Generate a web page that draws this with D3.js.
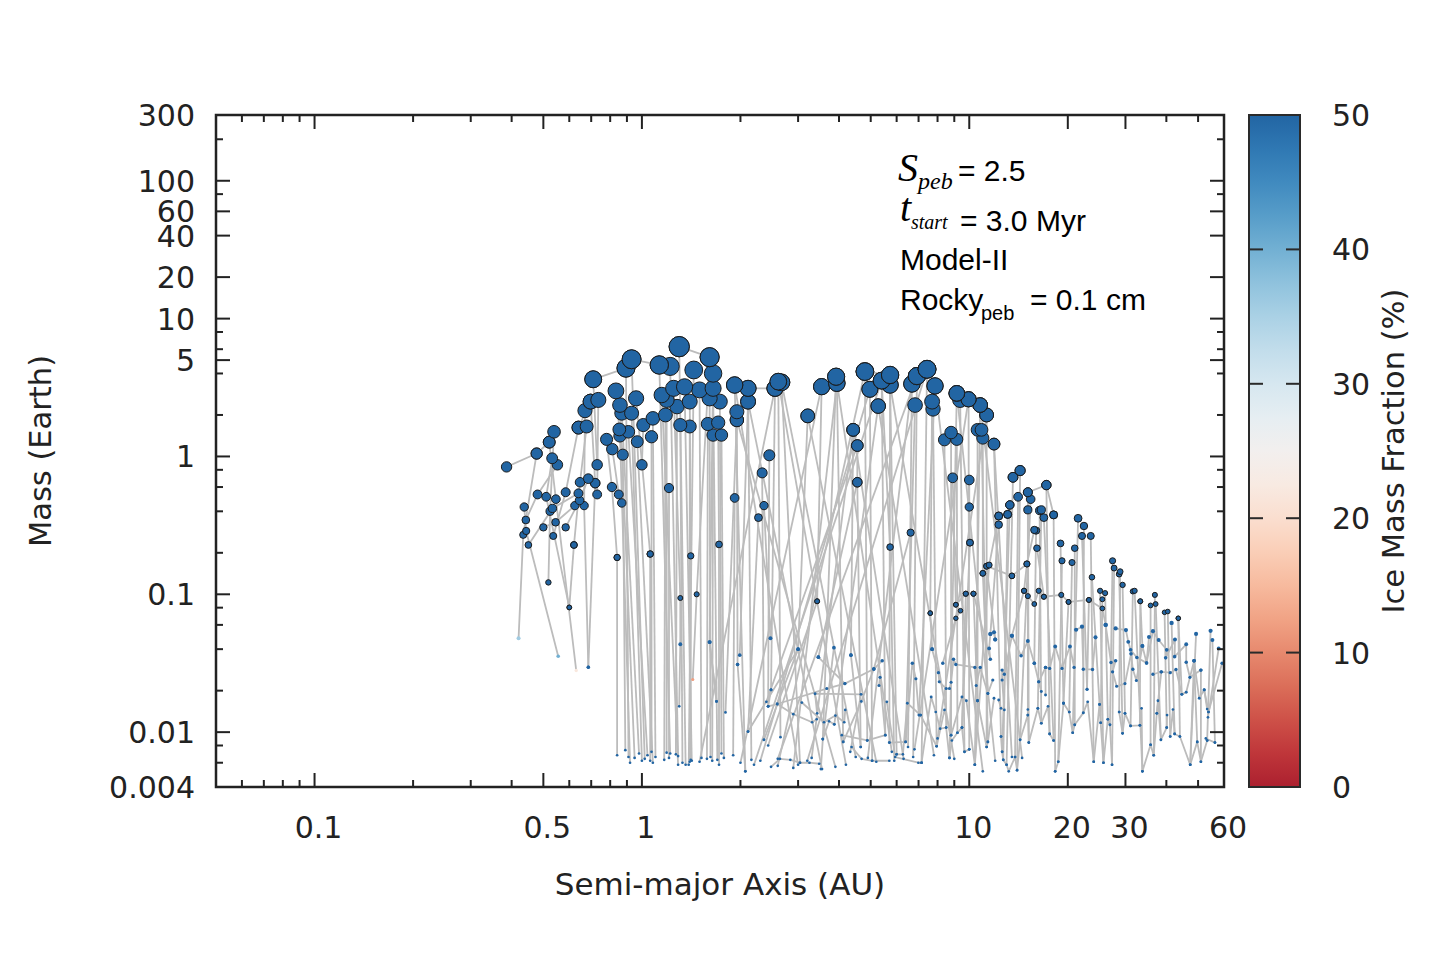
<!DOCTYPE html>
<html><head><meta charset="utf-8">
<script src="https://cdn.jsdelivr.net/npm/d3@7"></script>
<style>body{margin:0;background:#fff} svg{display:block}</style>
</head><body>
<svg id="chart" width="1440" height="960"></svg>
<script>
// ---------- axis data ----------
const xTickLabels = [0.1, 0.5, 1, 10, 20, 30, 60];
const xMajorTicks = [0.1, 0.5, 1, 10, 20, 30];
const xMinorTicks = [0.06,0.07,0.08,0.09,0.2,0.3,0.4,0.6,0.7,0.8,0.9,2,3,4,5,6,7,8,9,40,50];
const yTickLabels = [300, 100, 60, 40, 20, 10, 5, 1, 0.1, 0.01, 0.004];
const yMajorTicks = [100, 60, 40, 20, 10, 5, 1, 0.1, 0.01];
const yMinorTicks = [200,80,8,6,4,2,0.8,0.6,0.4,0.2,0.08,0.06,0.04,0.02,0.008,0.006];
const iceTicks = [0, 10, 20, 30, 40, 50];
const defaultIce = 50;

// ---------- planet tracks: [semi-major axis AU, mass Earth, (ice %)] ----------
const innerTracks = [
 [[0.42,0.048,36],[0.434,0.27],[0.477,1.05]],
 [[0.386,0.84],[0.477,1.05],[0.521,1.27]],
 [[0.555,0.0355,40],[0.443,0.288],[0.437,0.43]],
 [[0.63,0.028,22],[0.546,0.49],[0.521,1.27]],
 [[0.686,0.0296],[0.666,0.44],[0.67,2.15]],
 [[0.60,0.0803],[0.51,0.51],[0.532,0.97]],
 [[0.518,0.122],[0.524,0.40],[0.539,1.51]],
 [[0.442,0.346],[0.48,0.53],[0.552,0.87]],
 [[0.536,0.265],[0.585,0.55],[0.64,1.62]],
 [[0.45,0.228],[0.533,0.42],[0.64,0.54]],
 [[0.50,0.306],[0.545,0.333],[0.624,0.44]],
 [[0.585,0.306],[0.645,0.48],[0.686,0.69]],
 [[0.62,0.228],[0.647,0.65],[0.678,1.65]],
 [[0.72,0.64],[0.697,2.5]],
 [[0.73,0.53],[0.736,2.57]],
 [[0.84,0.185],[0.81,0.60],[0.78,1.33]],
 [[0.73,0.87],[0.71,3.63]],
 [[0.868,0.46],[0.85,0.53],[0.812,1.13]],
 [[0.89,0.0074],[0.874,1.03],[0.853,1.57]],
 [[0.92,0.006],[0.857,1.41],[0.833,2.99]],
 [[0.91,0.0066],[0.894,4.37]],
 [[1.02,0.0064],[0.93,5.07]],
 [[0.95,0.0065],[0.857,2.36]],
 [[0.98,0.007],[0.868,2.06]],
 [[1.0,0.0062],[0.93,2.06]],
 [[1.06,0.196],[0.96,2.64]],
 [[1.04,0.0068],[0.909,1.51]],
 [[1.08,0.006],[0.968,1.28]],
 [[1.0,0.87],[1.01,1.69]],
 [[1.22,0.007],[1.13,4.61]],
 [[1.29,0.0067],[1.22,4.5]],
 [[1.36,0.0058],[1.30,6.26]],
 [[1.39,0.0058],[1.44,4.24]],
 [[1.30,0.0154],[1.31,0.0434],[1.31,0.094],[1.25,3.12]],
 [[1.29,0.0058],[1.15,2.79]],
 [[1.43,0.0241,12],[1.47,0.10],[1.61,5.25]],
 [[1.69,0.0167],[1.61,0.045],[1.65,4.0]],
 [[1.42,0.0062],[1.35,3.2]],
 [[1.52,0.0065],[1.50,3.04]],
 [[1.7,0.0063],[1.65,3.12]],
 [[2.07,0.0052],[1.92,3.3]],
 [[2.16,0.0063],[2.11,3.12]],
 [[1.99,0.0362],[2.11,2.5]],
 [[1.96,0.031],[1.95,2.11]],
 [[1.80,0.0139],[1.95,1.84]],
 [[1.75,0.007],[1.73,2.5]],
 [[1.62,0.0066],[1.61,2.64]],
 [[1.19,0.0071],[1.19,2.57]],
 [[1.27,0.0069],[1.28,2.3]],
 [[1.41,0.0063],[1.41,0.19],[1.40,2.5]],
 [[1.1,0.0066],[1.08,1.89]],
 [[1.17,0.0063],[1.18,2.0]],
 [[1.33,0.006],[1.31,1.69]],
 [[1.4,0.0061],[1.40,1.65]],
 [[1.58,0.0064],[1.59,1.72]],
 [[1.72,0.0058],[1.72,0.23],[1.71,1.76]],
 [[1.64,0.0062],[1.65,1.43]],
 [[1.78,0.0065],[1.75,1.43]],
 [[1.07,0.0072],[1.07,1.39]],
 [[1.9,0.0068],[1.92,0.50]],
 [[1.21,0.0065],[1.21,0.59]],
 [[0.84,0.0068],[0.84,0.185]],
 [[1.06,0.0062],[1.06,0.196]],
 [[0.71,3.63],[0.894,4.37]],
 [[0.93,5.07],[1.13,4.61]],
 [[1.30,6.26],[1.61,5.25]],
 [[2.11,3.12],[2.55,3.12]],
 [[0.64,1.62],[0.697,2.5]],
 [[0.686,0.0296],[0.72,0.64]],
 [[0.60,0.0803],[0.62,0.228]]
];

const middleTracks = [
 [[2.48,0.0203],[2.55,3.12]],
 [[2.65,0.0092],[2.61,3.49]],
 [[3.0,0.04],[3.21,1.97]],
 [[2.43,0.0154],[2.45,1.02]],
 [[2.36,0.0088],[2.33,0.76]],
 [[2.47,0.048],[2.36,0.44]],
 [[2.11,0.0101],[2.27,0.36]],
 [[3.04,0.006],[2.67,3.45]],
 [[3.43,0.089],[3.54,3.21]],
 [[3.57,0.0089],[3.92,3.79]],
 [[4.12,0.0085],[3.94,3.4]],
 [[4.35,0.0362],[4.42,1.56]],
 [[4.66,0.0078],[4.55,0.65],[4.55,1.2]],
 [[4.88,0.0087],[4.80,4.13]],
 [[5.05,0.0062],[4.97,3.07]],
 [[3.87,0.0114],[5.27,2.32]],
 [[5.54,0.0095],[5.4,3.55]],
 [[5.7,0.0084],[5.73,3.9]],
 [[6.0,0.0069],[5.73,3.3]],
 [[6.5,0.0078],[6.68,3.36]],
 [[6.74,0.0066],[6.92,3.83]],
 [[7.15,0.006],[7.43,4.29]],
 [[7.02,0.0133],[7.86,3.25]],
 [[6.39,0.0085],[6.83,2.36]],
 [[7.6,0.073],[7.7,2.5]],
 [[7.95,0.0079],[7.75,2.21]],
 [[8.7,0.0065],[9.16,2.87]],
 [[9.67,0.0072],[9.38,2.57]],
 [[10.0,0.0075],[9.95,2.6]],
 [[10.4,0.0058],[10.8,2.36]],
 [[11.3,0.0078],[11.3,2.0]],
 [[8.5,0.0108],[8.4,1.32]],
 [[8.8,0.0095],[8.8,1.49]],
 [[9.2,0.0099],[9.16,1.33]],
 [[10.6,0.0169],[10.6,1.56]],
 [[11.4,0.0085],[10.9,1.56]],
 [[11.4,0.0191],[11.0,0.142],[11.0,1.36]],
 [[12.5,0.0093],[11.9,1.23]],
 [[9.1,0.084],[8.9,0.70]],
 [[10.05,0.237],[10.0,0.43],[10.0,0.675]],
 [[9.5,0.0108],[10.05,0.237]],
 [[5.11,0.0287],[6.62,0.28]],
 [[3.46,0.035],[4.55,0.65]],
 [[2.2,0.0058],[5.4,3.55]],
 [[2.6,0.0064],[6.92,3.83]],
 [[3.2,0.0062],[7.43,4.29]],
 [[4.5,0.0066],[2.67,3.45]],
 [[9.0,0.0064],[5.73,3.3]],
 [[11.0,0.0052],[7.86,3.25]],
 [[12.0,0.0062],[9.16,2.87]],
 [[3.0,0.0058],[1.92,3.3]],
 [[2.0,0.006],[3.54,3.21]],
 [[1.5,0.0061],[2.55,3.12]],
 [[3.3,0.0065],[4.42,1.56]],
 [[6.8,0.0075],[9.95,2.6]],
 [[8.0,0.009],[11.3,2.0]],
 [[14.5,0.0065],[10.8,2.36]],
 [[13.5,0.0066],[11.9,1.23]],
 [[5.8,0.0072],[3.92,3.79]],
 [[4.80,4.13],[5.73,3.9]],
 [[6.92,3.83],[7.43,4.29]],
 [[9.16,2.87],[9.95,2.6],[10.8,2.36]],
 [[12.0,0.047],[11.3,0.16]],
 [[10.4,0.0058],[11.5,0.163],[12.3,0.37]],
 [[3.55,0.0054],[2.11,2.5]],
 [[2.9,0.0055],[3.94,3.4]],
 [[2.3,0.0062],[4.97,3.07]],
 [[4.2,0.0058],[2.61,3.49]],
 [[3.9,0.0056],[1.95,1.84]],
 [[5.2,0.0061],[3.21,1.97]],
 [[2.6,0.0057],[4.80,4.13]],
 [[6.3,0.0064],[4.42,1.56]],
 [[4.9,0.0065],[6.68,3.36]],
 [[7.8,0.0068],[5.27,2.32]],
 [[2.4,0.0166],[4.55,1.2]],
 [[5.9,0.0062],[5.73,0.22],[5.4,3.55]]
];

const outerTracks = [
 [[13.0,0.0058],[13.6,0.706]],
 [[14.0,0.0053],[14.3,0.79]],
 [[15.2,0.0084],[15.1,0.55]],
 [[14.3,0.0088],[15.4,0.49]],
 [[13.8,0.0066],[14.1,0.51]],
 [[12.6,0.0072],[13.3,0.445]],
 [[12.7,0.0063],[13.1,0.38]],
 [[11.6,0.0515],[12.3,0.32]],
 [[15.1,0.0133],[15.1,0.41]],
 [[15.8,0.0316],[16.0,0.29]],
 [[16.6,0.0116],[16.4,0.405]],
 [[17.6,0.0097],[17.2,0.62]],
 [[16.2,0.0149],[16.6,0.41]],
 [[18.1,0.0087],[16.9,0.36]],
 [[18.3,0.0052],[18.1,0.377]],
 [[15.0,0.166],[15.8,0.293]],
 [[16.9,0.096],[16.1,0.216]],
 [[19.4,0.0162],[19.0,0.234]],
 [[18.7,0.0061],[19.2,0.175]],
 [[20.2,0.014],[20.6,0.17]],
 [[21.0,0.0113],[21.0,0.216]],
 [[20.7,0.0099],[21.5,0.356]],
 [[22.3,0.0138],[22.4,0.313]],
 [[22.9,0.0205],[22.1,0.265]],
 [[24.0,0.0061],[23.5,0.265]],
 [[25.0,0.0159],[23.7,0.133]],
 [[26.9,0.0113],[27.4,0.175]],
 [[27.3,0.0058],[27.7,0.155]],
 [[28.7,0.014],[28.9,0.146]],
 [[29.4,0.0098],[28.7,0.14]],
 [[29.9,0.0137],[29.4,0.117]],
 [[25.7,0.006],[25.1,0.106]],
 [[26.5,0.0124],[26.0,0.102]],
 [[25.2,0.0117],[25.5,0.092]],
 [[31.1,0.0111],[31.6,0.105]],
 [[33.8,0.0052],[32.0,0.106]],
 [[33.2,0.0112],[33.3,0.089]],
 [[35.8,0.0081],[35.8,0.083]],
 [[36.6,0.0068],[36.9,0.099]],
 [[38.5,0.0088],[37.1,0.085]],
 [[40.1,0.0108],[39.5,0.074]],
 [[41.1,0.0093],[40.4,0.075]],
 [[44.0,0.0093],[43.5,0.067]],
 [[42.4,0.0097],[41.5,0.062]],
 [[47.3,0.0058],[49.3,0.0516]],
 [[53.3,0.0087],[54.6,0.0543]],
 [[56.3,0.0084],[55.3,0.0466]],
 [[53.6,0.0128],[57.8,0.0405]],
 [[53.8,0.014],[59.2,0.0316]],
 [[51.0,0.0061],[51.0,0.0282]],
 [[49.7,0.0085],[48.6,0.0329]],
 [[13.6,0.706],[14.3,0.79]],
 [[15.1,0.55],[17.2,0.62],[18.1,0.377]],
 [[12.3,0.37],[13.1,0.38],[13.3,0.445]]
];

const lowChains = [
 [[2.11,0.0101],[3.0,0.04],[2.36,0.0088]],
 [[2.48,0.0056],[2.64,0.0064],[2.84,0.0063],[3.04,0.006],[3.25,0.006],[3.48,0.0059]],
 [[2.43,0.0154],[2.59,0.016],[2.9,0.0135],[3.31,0.0118],[3.42,0.0124]],
 [[2.59,0.016],[3.67,0.0207],[4.17,0.0225],[5.11,0.0287]],
 [[3.43,0.0137],[3.38,0.019],[4.67,0.0188],[4.33,0.0072]],
 [[3.46,0.035],[4.17,0.0225]],
 [[3.08,0.0164],[3.6,0.0118],[3.9,0.0132],[4.15,0.0118],[4.18,0.0145]],
 [[4.08,0.0095],[4.88,0.0087],[5.54,0.0095],[5.34,0.025],[5.3,0.0218]],
 [[5.7,0.0084],[6.39,0.0085],[6.7,0.0316],[6.87,0.0244],[7.02,0.0133]],
 [[6.0,0.0069],[6.27,0.0069],[6.47,0.0162],[7.1,0.0133]],
 [[5.6,0.0166],[5.94,0.0066],[6.99,0.006],[7.15,0.006]],
 [[2.43,0.008],[3.43,0.089]],
 [[5.42,0.033],[5.11,0.0287],[4.68,0.0167],[4.12,0.0085]],
 [[3.86,0.041],[3.57,0.0089]],
 [[4.35,0.0362],[4.66,0.0078]],
 [[2.48,0.0203],[2.43,0.0154]],
 [[3.52,0.0054],[3.57,0.0089],[3.73,0.012],[3.87,0.0114]],
 [[4.37,0.0078],[4.69,0.0064],[5.05,0.0062],[5.7,0.0062]],
 [[1.69,0.0167],[1.61,0.045]],
 [[1.96,0.031],[2.07,0.0052]],
 [[7.15,0.006],[7.65,0.018],[7.9,0.014],[8.15,0.0106],[8.5,0.0108],[8.7,0.0065],[8.85,0.0087],[9.2,0.0099],[9.5,0.0108],[9.67,0.0072],[10.0,0.0075]],
 [[7.1,0.0133],[7.95,0.0079],[8.4,0.0145],[8.8,0.0095],[9.5,0.018],[9.8,0.0169],[10.4,0.0058],[10.6,0.0169],[11.3,0.0078],[11.4,0.0085],[11.9,0.0176]],
 [[7.7,0.040],[8.05,0.027],[8.1,0.0232],[8.5,0.0207],[8.7,0.0207],[8.8,0.023],[8.95,0.0338],[9.1,0.031],[10.4,0.0295],[10.5,0.0218],[10.8,0.0295],[11.4,0.0191],[11.8,0.0239]],
 [[8.3,0.0316],[9.1,0.067],[9.4,0.076],[9.1,0.084],[9.76,0.101],[10.3,0.101],[11.6,0.0338],[11.5,0.0405],[11.6,0.0515],[11.9,0.053],[12.0,0.047]],
 [[12.3,0.0171],[12.5,0.0149],[12.8,0.0145],[12.6,0.0239],[12.6,0.0282],[12.8,0.0263],[13.5,0.05],[14.4,0.0358],[15.1,0.0458],[15.8,0.0316],[16.3,0.0232],[16.6,0.0197]],
 [[17.1,0.0186],[17.1,0.0295],[17.6,0.029],[18.3,0.0418],[19.2,0.029],[20.3,0.0418],[20.9,0.0295],[21.2,0.0553],[22.1,0.0582],[22.3,0.0286],[23.8,0.0285],[24.3,0.0487]],
 [[26.1,0.06],[27.1,0.032],[28.0,0.0329],[27.4,0.0274],[28.2,0.0215],[29.9,0.0225],[31.2,0.037],[31.6,0.0286],[32.4,0.0237],[33.8,0.0422],[34.8,0.0318],[35.4,0.049]],
 [[36.4,0.0263],[38.6,0.0274],[41.1,0.027],[42.8,0.0285],[44.6,0.0188],[46.0,0.0195],[48.6,0.0329],[50.4,0.0176],[52.2,0.0203],[53.3,0.0147]],
 [[12.5,0.0093],[12.6,0.0072],[12.7,0.0063],[13.0,0.0058],[13.2,0.0052],[13.8,0.0066],[14.0,0.0053],[14.3,0.0088],[15.1,0.0133],[15.1,0.0146],[15.2,0.0084],[16.2,0.0149],[16.6,0.0116],[17.4,0.0154],[17.6,0.0097],[18.1,0.0087]],
 [[18.3,0.0052],[18.7,0.0061],[19.4,0.0162],[20.2,0.014],[20.7,0.0099],[21.0,0.0113],[22.3,0.0138],[23.0,0.0166],[24.0,0.0061],[25.0,0.0159],[25.2,0.0117],[25.7,0.006],[26.5,0.0124],[26.9,0.0113],[27.3,0.0058]],
 [[28.7,0.014],[29.4,0.0098],[29.9,0.0137],[31.1,0.0111],[33.2,0.0112],[33.6,0.0149],[33.8,0.0052],[35.8,0.0081],[36.6,0.0068],[37.4,0.0137],[37.7,0.0169],[38.5,0.0088],[40.1,0.0108],[40.2,0.0133]],
 [[41.1,0.0093],[41.9,0.0146],[42.4,0.0097],[44.0,0.0093],[47.3,0.0058],[49.7,0.0085],[51.0,0.0061],[53.3,0.0087],[52.8,0.009],[56.3,0.0084]],
 [[13.5,0.136],[15.0,0.166],[14.7,0.106],[15.1,0.097],[15.8,0.085],[16.3,0.106],[16.9,0.096],[19.1,0.099],[20.1,0.088],[23.2,0.091],[25.5,0.079],[26.1,0.06]],
 [[28.0,0.0565],[30.1,0.055],[30.6,0.0452],[31.1,0.0396],[32.5,0.0348],[34.8,0.0318],[36.4,0.054],[37.9,0.0466],[40.1,0.0396],[39.8,0.0346],[42.5,0.047],[42.4,0.0353],[46.0,0.0434],[46.0,0.0321],[47.2,0.025],[51.0,0.0282]],
 [[11.0,0.142],[11.3,0.16],[13.5,0.136]],
 [[13.5,0.05],[14.7,0.106]],
 [[16.3,0.0232],[17.1,0.0295]],
 [[20.1,0.088],[19.4,0.0162]],
 [[23.2,0.091],[22.9,0.0205]],
 [[33.8,0.0422],[33.3,0.089]],
 [[44.6,0.0188],[43.5,0.067]],
 [[38.6,0.0274],[37.4,0.0137]],
 [[48.6,0.0329],[47.3,0.0058]],
 [[53.8,0.014],[52.2,0.0203]],
 [[7.7,0.040],[7.6,0.073]],
 [[9.76,0.101],[9.5,0.0108]],
 [[10.3,0.101],[10.6,0.0169]]
];

// ---------- layout ----------
const svg = d3.select('#chart');
const plot = {left: 216, right: 1224, top: 115, bottom: 787};
const cbar = {left: 1249, right: 1300};
const tickFont = 'DejaVu Sans, Verdana, sans-serif';

const x = d3.scaleLog().domain([0.05, 60]).range([plot.left, plot.right]);
const y = d3.scaleLog().domain([0.004, 300]).range([plot.bottom, plot.top]);
const iceColor = v => d3.interpolateRdBu(0.1 + 0.8 * v / 50);
const cy = d3.scaleLinear().domain([0, 50]).range([plot.bottom, plot.top]);
const rScale = m => Math.max(1.35, 5.5 * Math.cbrt(m));

const allTracks = innerTracks.concat(middleTracks, outerTracks, lowChains);

// lines
const line = d3.line().x(d => x(d[0])).y(d => y(d[1]));
svg.append('g').selectAll('path').data(allTracks).join('path')
  .attr('d', line).attr('fill', 'none')
  .attr('stroke', '#bcbcbc').attr('stroke-width', 1.8)
  .attr('stroke-linejoin', 'round');

// dots
const dots = [];
allTracks.forEach(t => t.forEach(p => dots.push({a: p[0], m: p[1], ice: p.length > 2 ? p[2] : defaultIce})));
dots.sort((p, q) => p.m - q.m);
svg.append('g').selectAll('circle').data(dots).join('circle')
  .attr('cx', d => x(d.a)).attr('cy', d => y(d.m))
  .attr('r', d => rScale(d.m))
  .attr('fill', d => iceColor(d.ice))
  .attr('stroke', '#1c1c1c')
  .attr('stroke-width', d => rScale(d.m) > 2.2 ? 1 : 0);

// frame
svg.append('rect').attr('x', plot.left).attr('y', plot.top)
  .attr('width', plot.right - plot.left).attr('height', plot.bottom - plot.top)
  .attr('fill', 'none').attr('stroke', '#222').attr('stroke-width', 2.5);

// ticks
const tg = svg.append('g').attr('stroke', '#222').attr('stroke-width', 2);
function xt(vals, len) {
  vals.forEach(v => {
    tg.append('line').attr('x1', x(v)).attr('x2', x(v)).attr('y1', plot.bottom).attr('y2', plot.bottom - len);
    tg.append('line').attr('x1', x(v)).attr('x2', x(v)).attr('y1', plot.top).attr('y2', plot.top + len);
  });
}
function yt(vals, len) {
  vals.forEach(v => {
    tg.append('line').attr('y1', y(v)).attr('y2', y(v)).attr('x1', plot.left).attr('x2', plot.left + len);
    tg.append('line').attr('y1', y(v)).attr('y2', y(v)).attr('x1', plot.right).attr('x2', plot.right - len);
  });
}
xt(xMajorTicks, 14); xt(xMinorTicks, 7);
yt(yMajorTicks, 14); yt(yMinorTicks, 7);

// tick labels
svg.append('g').selectAll('text').data(xTickLabels).join('text')
  .attr('x', d => x(d) + 4).attr('y', 838)
  .attr('text-anchor', 'middle').attr('font-family', tickFont).attr('font-size', 30)
  .attr('fill', '#222').text(d => String(d));
svg.append('g').selectAll('text').data(yTickLabels).join('text')
  .attr('x', 195).attr('y', d => y(d) + 11)
  .attr('text-anchor', 'end').attr('font-family', tickFont).attr('font-size', 30)
  .attr('fill', '#222').text(d => String(d));

// axis titles
svg.append('text').attr('x', 720).attr('y', 895).attr('text-anchor', 'middle')
  .attr('font-family', tickFont).attr('font-size', 31).attr('fill', '#222')
  .text('Semi-major Axis (AU)');
svg.append('text').attr('transform', 'translate(51,451) rotate(-90)').attr('text-anchor', 'middle')
  .attr('font-family', tickFont).attr('font-size', 30.5).attr('fill', '#222')
  .text('Mass (Earth)');

// colorbar
const defs = svg.append('defs');
const grad = defs.append('linearGradient').attr('id', 'icegrad')
  .attr('x1', 0).attr('y1', 1).attr('x2', 0).attr('y2', 0);
d3.range(0, 51, 2.5).forEach(v => grad.append('stop')
  .attr('offset', (v / 50 * 100) + '%').attr('stop-color', iceColor(v)));
svg.append('rect').attr('x', cbar.left).attr('y', plot.top)
  .attr('width', cbar.right - cbar.left).attr('height', plot.bottom - plot.top)
  .attr('fill', 'url(#icegrad)').attr('stroke', '#2a2a2a').attr('stroke-width', 2);
const cg = svg.append('g').attr('stroke', '#2a2a2a').attr('stroke-width', 2);
iceTicks.filter(v => v > 0 && v < 50).forEach(v => {
  cg.append('line').attr('x1', cbar.left).attr('x2', cbar.left + 14).attr('y1', cy(v)).attr('y2', cy(v));
  cg.append('line').attr('x1', cbar.right).attr('x2', cbar.right - 14).attr('y1', cy(v)).attr('y2', cy(v));
});
svg.append('g').selectAll('text').data(iceTicks).join('text')
  .attr('x', 1332).attr('y', d => cy(d) + 11)
  .attr('font-family', tickFont).attr('font-size', 30).attr('fill', '#222')
  .text(d => String(d));
svg.append('text').attr('transform', 'translate(1404,451) rotate(-90)').attr('text-anchor', 'middle')
  .attr('font-family', tickFont).attr('font-size', 30.5).attr('fill', '#222')
  .text('Ice Mass Fraction (%)');

// annotation
const serif = 'Liberation Serif, Times New Roman, serif';
const sans = 'Liberation Sans, Arial, Helvetica, sans-serif';
const ann = svg.append('g').attr('fill', '#000');
function txt(xp, yp, s, fam, size, italic) {
  ann.append('text').attr('x', xp).attr('y', yp).attr('font-family', fam)
    .attr('font-size', size).attr('font-style', italic ? 'italic' : 'normal').text(s);
}
txt(898, 181, 'S', serif, 40, true);
txt(918, 189, 'peb', serif, 24, true);
txt(958, 181, '= 2.5', sans, 30, false);
txt(900, 221, 't', serif, 40, true);
txt(911, 229, 'start', serif, 20, true);
txt(960, 231, '= 3.0 Myr', sans, 30, false);
txt(900, 270, 'Model-II', sans, 30, false);
txt(900, 310, 'Rocky', sans, 30, false);
txt(981, 320, 'peb', sans, 20, false);
txt(1030, 310, '= 0.1 cm', sans, 30, false);
</script>
</body></html>
